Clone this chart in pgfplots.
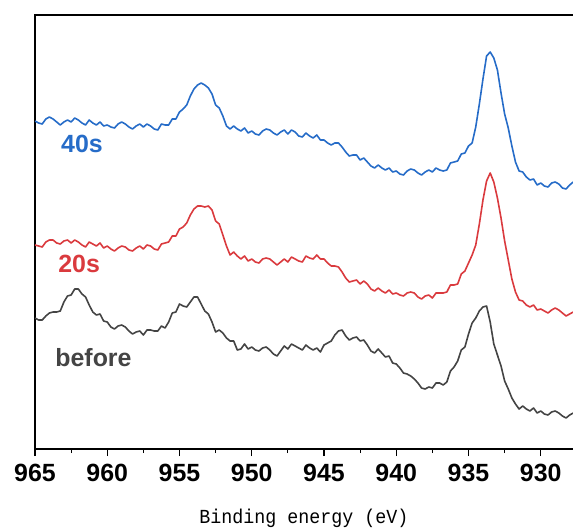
\documentclass[border=0pt]{standalone}
\usepackage{fontspec}
\setmainfont{Liberation Sans}
\newfontfamily\labelmono[FakeStretch=0.92]{Liberation Mono}
\usepackage{pgfplots}
\pgfplotsset{compat=1.18}
\definecolor{cblue}{RGB}{38,108,200}
\definecolor{cred}{RGB}{218,58,62}
\definecolor{cgray}{RGB}{68,68,68}
\begin{document}
\begin{tikzpicture}
\path[use as bounding box] (-35bp,-82bp) rectangle (538bp,449bp);
\begin{axis}[
  scale only axis, width=538bp, height=434bp,
  at={(0,0)}, anchor=south west,
  xmin=927.77, xmax=965, x dir=reverse,
  ymin=15, ymax=449, y dir=reverse,
  xtick={930,935,...,965}, minor x tick num=1,
  ytick=\empty,
  xtick pos=left, tick align=outside,
  major tick length=7bp, minor tick length=4bp,
  every tick/.style={black, line width=1.2bp},
  axis line style={draw=none},
  xticklabel style={font=\bfseries\fontsize{25}{25}\selectfont, anchor=base, yshift=-25bp},
  /pgf/number format/assume math mode=true,
  /pgf/number format/1000 sep={},
  xlabel={\labelmono Binding energy (eV)},
  xlabel style={at={(axis description cs:0.5,0)}, anchor=base, yshift=-74bp, font=\fontsize{20}{20}\selectfont},
  clip mode=individual,
]
\draw[line width=1.2bp, line cap=rect] (axis description cs:1,1) -- (axis description cs:0,1) -- (axis description cs:0,0) -- (axis description cs:1,0);
% before
\addplot[cgray, line width=1.6bp, line join=round] table {
965.00 318
964.75 320
964.50 320
964.25 316
964.00 313
963.75 312
963.50 312
963.25 311
963.00 302
962.75 296
962.50 295
962.25 289
962.00 289
961.75 294
961.50 297
961.25 305
961.00 312
960.75 315
960.50 314
960.25 321
960.00 322
959.75 327
959.50 329
959.25 326
959.00 325
958.75 327
958.50 331
958.25 334
958.00 332
957.75 331
957.50 335
957.25 330
957.00 330
956.75 331
956.50 331
956.25 326
956.00 328
955.75 322
955.50 313
955.25 312
955.00 304
954.75 306
954.50 307
954.25 302
954.00 297
953.75 297
953.50 304
953.25 311
953.00 314
952.75 322
952.50 332
952.25 330
952.00 333
951.75 338
951.50 341
951.25 341
951.00 350
950.75 349
950.50 344
950.25 349
950.00 347
949.75 350
949.50 351
949.25 348
949.00 347
948.75 350
948.50 354
948.25 356
948.00 351
947.75 346
947.50 349
947.25 344
947.00 346
946.75 348
946.50 350
946.25 345
946.00 348
945.75 350
945.50 348
945.25 352
945.00 345
944.75 343
944.50 341
944.25 335
944.00 331
943.75 330
943.50 336
943.25 340
943.00 338
942.75 337
942.50 341
942.25 340
942.00 345
941.75 351
941.50 353
941.25 349
941.00 353
940.75 357
940.50 356
940.25 363
940.00 364
939.75 368
939.50 373
939.25 374
939.00 376
938.75 379
938.50 383
938.25 388
938.00 389
937.75 387
937.50 388
937.25 383
937.00 383
936.75 385
936.50 382
936.25 371
936.00 367
935.75 361
935.50 350
935.25 347
935.00 334
934.75 323
934.50 318
934.25 311
934.00 307
933.75 306
933.50 322
933.25 344
933.00 355
932.75 366
932.50 381
932.25 389
932.00 398
931.75 404
931.50 409
931.25 406
931.00 409
930.75 411
930.50 408
930.25 413
930.00 411
929.75 414
929.50 415
929.25 412
929.00 411
928.75 413
928.50 416
928.25 418
928.00 415
927.75 413
};
% 20s
\addplot[cred, line width=1.6bp, line join=round] table {
965.00 245
964.75 246
964.50 247
964.25 242
964.00 240
963.75 240
963.50 243
963.25 244
963.00 241
962.75 240
962.50 243
962.25 240
962.00 242
961.75 245
961.50 247
961.25 242
961.00 244
960.75 246
960.50 243
960.25 248
960.00 246
959.75 249
959.50 251
959.25 248
959.00 246
958.75 247
958.50 250
958.25 251
958.00 248
957.75 246
957.50 249
957.25 245
957.00 246
956.75 249
956.50 250
956.25 244
956.00 243
955.75 242
955.50 236
955.25 236
955.00 229
954.75 227
954.50 223
954.25 215
954.00 209
953.75 206
953.50 206
953.25 207
953.00 206
952.75 210
952.50 221
952.25 224
952.00 235
951.75 246
951.50 255
951.25 252
951.00 256
950.75 259
950.50 256
950.25 261
950.00 259
949.75 262
949.50 263
949.25 259
949.00 258
948.75 259
948.50 262
948.25 265
948.00 262
947.75 259
947.50 262
947.25 257
947.00 259
946.75 261
946.50 262
946.25 256
946.00 258
945.75 259
945.50 255
945.25 259
945.00 259
944.75 263
944.50 266
944.25 266
944.00 267
943.75 272
943.50 278
943.25 282
943.00 281
942.75 280
942.50 284
942.25 281
942.00 284
941.75 289
941.50 291
941.25 288
941.00 291
940.75 293
940.50 290
940.25 294
940.00 293
939.75 295
939.50 296
939.25 293
939.00 292
938.75 293
938.50 297
938.25 299
938.00 296
937.75 295
937.50 298
937.25 293
937.00 293
936.75 293
936.50 292
936.25 285
936.00 285
935.75 284
935.50 274
935.25 271
935.00 263
934.75 255
934.50 245
934.25 224
934.00 200
933.75 181
933.50 173
933.25 182
933.00 198
932.75 218
932.50 241
932.25 260
932.00 279
931.75 292
931.50 300
931.25 301
931.00 305
930.75 307
930.50 305
930.25 310
930.00 309
929.75 311
929.50 313
929.25 310
929.00 308
928.75 310
928.50 313
928.25 316
928.00 314
927.75 312
};
% 40s
\addplot[cblue, line width=1.6bp, line join=round] table {
965.00 121
964.75 123
964.50 124
964.25 119
964.00 117
963.75 119
963.50 122
963.25 125
963.00 122
962.75 120
962.50 122
962.25 118
962.00 120
961.75 123
961.50 125
961.25 120
961.00 123
960.75 125
960.50 122
960.25 126
960.00 125
959.75 127
959.50 128
959.25 124
959.00 122
958.75 124
958.50 127
958.25 129
958.00 126
957.75 124
957.50 127
957.25 124
957.00 126
956.75 129
956.50 130
956.25 124
956.00 125
955.75 125
955.50 119
955.25 119
955.00 112
954.75 109
954.50 105
954.25 96
954.00 89
953.75 85
953.50 83
953.25 85
953.00 88
952.75 94
952.50 105
952.25 108
952.00 116
951.75 126
951.50 129
951.25 126
951.00 129
950.75 131
950.50 128
950.25 133
950.00 131
949.75 134
949.50 135
949.25 131
949.00 129
948.75 130
948.50 133
948.25 135
948.00 132
947.75 130
947.50 134
947.25 130
947.00 132
946.75 136
946.50 137
946.25 133
946.00 136
945.75 138
945.50 135
945.25 140
945.00 140
944.75 143
944.50 145
944.25 143
944.00 143
943.75 147
943.50 152
943.25 156
943.00 155
942.75 155
942.50 160
942.25 158
942.00 162
941.75 166
941.50 168
941.25 165
941.00 168
940.75 170
940.50 168
940.25 172
940.00 171
939.75 174
939.50 175
939.25 171
939.00 169
938.75 170
938.50 173
938.25 175
938.00 172
937.75 170
937.50 172
937.25 168
937.00 170
936.75 171
936.50 170
936.25 163
936.00 162
935.75 161
935.50 154
935.25 153
935.00 146
934.75 143
934.50 127
934.25 104
934.00 79
933.75 56
933.50 52
933.25 58
933.00 70
932.75 93
932.50 114
932.25 128
932.00 146
931.75 162
931.50 171
931.25 172
931.00 177
930.75 180
930.50 179
930.25 185
930.00 183
929.75 186
929.50 187
929.25 183
929.00 182
928.75 184
928.50 188
928.25 189
928.00 185
927.75 182
};
\node[anchor=base west, inner sep=0pt, text=cblue, font=\bfseries\fontsize{25}{25}\selectfont] at (axis cs:963.2,152) {40s};
\node[anchor=base west, inner sep=0pt, text=cred, font=\bfseries\fontsize{25}{25}\selectfont] at (axis cs:963.4,272) {20s};
\node[anchor=base west, inner sep=0pt, text=cgray, font=\bfseries\fontsize{25}{25}\selectfont] at (axis cs:963.6,366) {before};
\end{axis}
\end{tikzpicture}
\end{document}
